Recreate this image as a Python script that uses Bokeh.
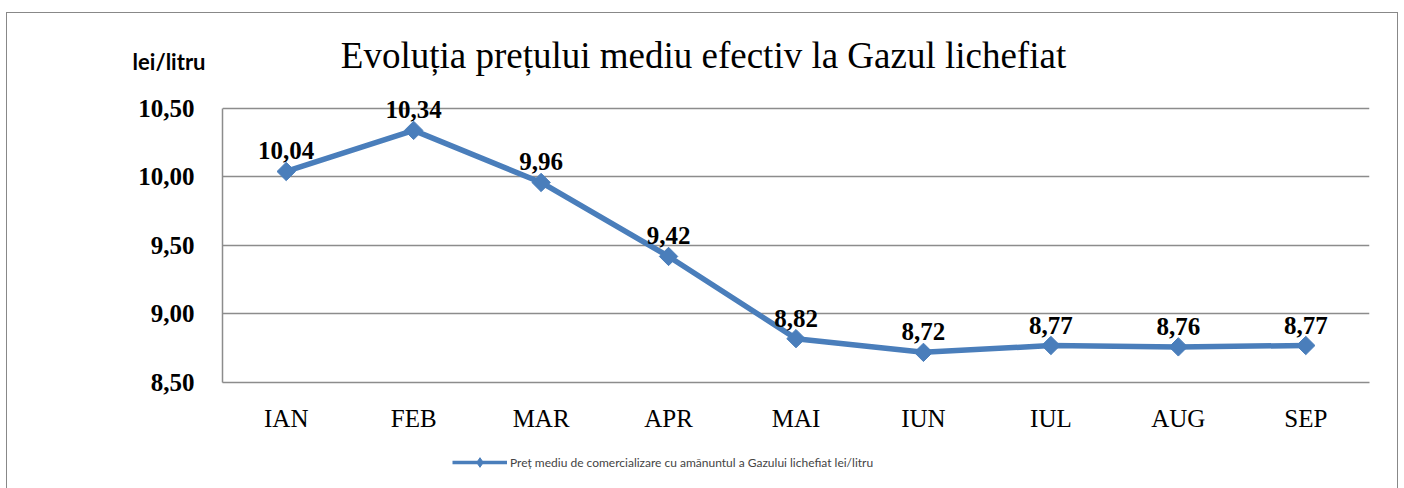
import math
from bokeh.plotting import figure
from bokeh.layouts import column
from bokeh.models import (ColumnDataSource, FixedTicker, Label, LabelSet, Legend, LegendItem)
from bokeh.embed import file_html
from bokeh.resources import INLINE

months = ["IAN", "FEB", "MAR", "APR", "MAI", "IUN", "IUL", "AUG", "SEP"]
prices = [10.04, 10.34, 9.96, 9.42, 8.82, 8.72, 8.77, 8.76, 8.77]
y_ticks = [8.5, 9.0, 9.5, 10.0, 10.5]
y_tick_labels = ["8,50", "9,00", "9,50", "10,00", "10,50"]
title_text = "Evoluția prețului mediu efectiv la Gazul lichefiat"
unit_text = "lei/litru"
series_name = "Preț mediu de comercializare cu amănuntul a Gazului lichefiat lei/litru"

BLUE = "#4A7EBB"
GRID = "#8c8c8c"
SERIF = "Liberation Serif"
W = 1390
H_HEAD, H_MAIN, H_FOOT = 70, 357, 48
ROT = math.pi / 4


def blank(h, **kw):
    f = figure(width=W, height=h, output_backend="svg", toolbar_location=None,
               min_border=0, min_border_left=0, min_border_right=0,
               min_border_top=0, min_border_bottom=0, **kw)
    f.axis.visible = False
    f.grid.visible = False
    f.outline_line_color = None
    f.frame_align = False
    return f


# header with title and unit
head = blank(H_HEAD, x_range=(0, W), y_range=(0, H_HEAD))
head.add_layout(Label(x=696, y=28, text=title_text, text_align="center",
                      text_baseline="middle", text_font=SERIF, text_font_size="37px",
                      text_color="black"))
head.add_layout(Label(x=198, y=22, text=unit_text, text_align="right",
                      text_baseline="middle", text_font="Lato", text_font_style="bold",
                      text_font_size="22px", text_color="black"))

# main chart
labels = [f"{v:.2f}".replace(".", ",") for v in prices]
src = ColumnDataSource(dict(m=months, v=prices, t=labels))

p = figure(x_range=months, y_range=(8.5, 10.653), width=W, height=H_MAIN,
           output_backend="svg", toolbar_location=None,
           min_border_left=215, min_border_right=28, min_border_top=4,
           min_border_bottom=58)
p.outline_line_color = None

p.xgrid.grid_line_color = None
p.ygrid.grid_line_color = GRID
p.ygrid.grid_line_width = 1.5
p.ygrid.ticker = FixedTicker(ticks=y_ticks)

p.yaxis.ticker = FixedTicker(ticks=y_ticks)
p.yaxis.bounds = (y_ticks[0], y_ticks[-1])
p.yaxis.major_label_overrides = {t: l for t, l in zip(y_ticks, y_tick_labels)}
p.yaxis.major_label_text_font = SERIF
p.yaxis.major_label_text_font_style = "bold"
p.yaxis.major_label_text_font_size = "25px"
p.yaxis.major_label_text_color = "black"
p.yaxis.major_label_standoff = 22
p.yaxis.axis_line_color = GRID
p.yaxis.axis_line_width = 1.5

p.xaxis.major_label_text_font = SERIF
p.xaxis.major_label_text_font_size = "25px"
p.xaxis.major_label_text_color = "black"
p.xaxis.major_label_standoff = 16
p.xaxis.axis_line_color = GRID
p.xaxis.axis_line_width = 1.5

for ax in (p.xaxis, p.yaxis):
    ax.major_tick_line_color = None
    ax.minor_tick_line_color = None

p.line("m", "v", source=src, line_color=BLUE, line_width=5.5)
p.scatter("m", "v", source=src, marker="square", size=13, angle=ROT,
          fill_color=BLUE, line_color=BLUE)

ls = LabelSet(x="m", y="v", text="t", source=src, text_align="center",
              text_baseline="bottom", y_offset=12, text_font=SERIF,
              text_font_style="bold", text_font_size="25px", text_color="black")
p.add_layout(ls)

# footer with legend (legend renderers hidden, only their legend glyphs show)
foot = blank(H_FOOT, x_range=months, y_range=(8.5, 10.5))
lg_line = foot.line("m", "v", source=src, line_color=BLUE, line_width=3.5)
lg_pt = foot.scatter("m", "v", source=src, marker="diamond", size=11,
                     fill_color=BLUE, line_color=BLUE)
lg_line.visible = False
lg_pt.visible = False
legend = Legend(items=[LegendItem(label=series_name, renderers=[lg_line, lg_pt])],
                location=(445, 14), orientation="horizontal",
                label_text_font="Lato", label_text_font_size="12px",
                glyph_width=55, glyph_height=24, label_standoff=3,
                border_line_color=None, background_fill_alpha=0,
                inactive_fill_alpha=0, click_policy="none",
                padding=0, margin=0)
foot.add_layout(legend, "center")

layout = column(head, p, foot, spacing=0)
layout.margin = (12, 0, 0, 6)
layout.styles = {"border-left": "1px solid #888", "border-top": "1px solid #888",
                 "border-right": "1px solid #888"}

open("out.html", "w").write(file_html(layout, INLINE))
